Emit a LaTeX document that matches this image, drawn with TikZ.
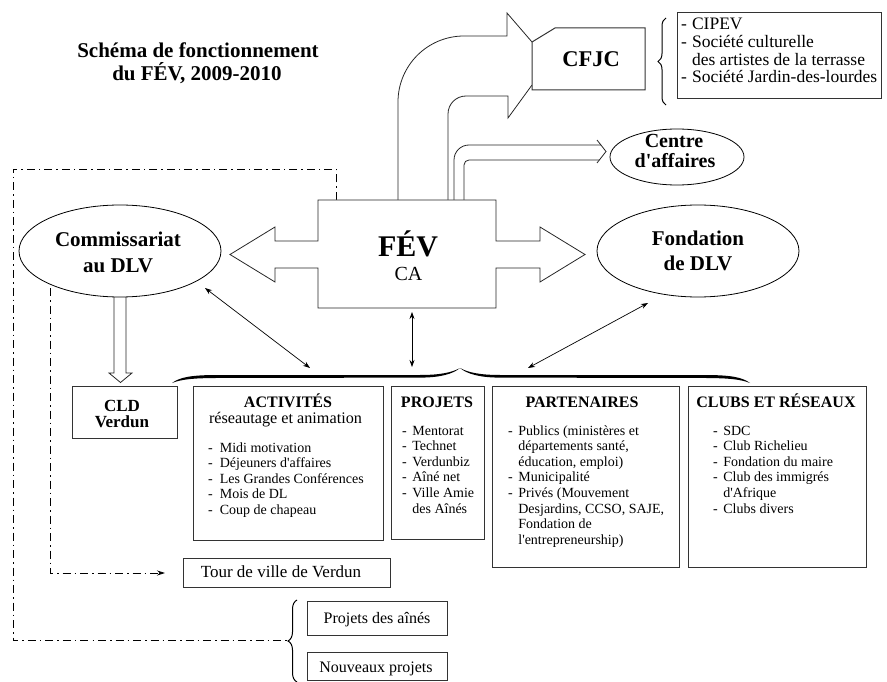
\documentclass[tikz,border=0pt]{standalone}
\usepackage{fontspec}
\setmainfont{Liberation Serif}[Ligatures=TeXOff]
\usetikzlibrary{arrows.meta,decorations.pathreplacing,shapes.geometric}

\begin{document}
\begin{tikzpicture}[x=1pt,y=-1pt,line join=miter]
\tikzset{
  lbl/.style={inner sep=0pt, anchor=base},
  lst/.style={inner sep=0pt, anchor=base west, align=left},
  rectbox/.style={draw=black!80, line width=1pt, fill=white, inner sep=0pt, anchor=north west},
  oval/.style={ellipse, draw=black, line width=0.8pt, fill=white, inner sep=0pt},
  shape line/.style={draw=black!85, line width=0.8pt},
  dashdot/.style={line width=0.8pt, dash pattern=on 8pt off 4pt on 1.5pt off 4pt},
  both arrow/.style={line width=0.7pt, {Stealth[length=7pt,width=5pt]}-{Stealth[length=7pt,width=5pt]}},
  bigfont/.style={font=\bfseries\fontsize{21}{25}\selectfont},
  headfont/.style={font=\bfseries\fontsize{16}{18}\selectfont},
}
\newcommand{\listfont}{\fontsize{14}{15.6}\selectfont}

% page frame
\useasboundingbox (0,0) rectangle (887,682);

% title
\node[lbl, bigfont] (title1) at (198,58) {Schéma de fonctionnement};
\node[lbl, bigfont] (title2) at (197,81) {du FÉV, 2009-2010};

% dash-dotted links
\coordinate (dA) at (336,200);
\coordinate (dB) at (336,169);
\coordinate (dC) at (13,169);
\coordinate (dD) at (13,640);
\coordinate (dE) at (287,640);
\draw[dashdot] (dA) -- (dB) -- (dC) -- (dD) -- (dE);

\coordinate (eA) at (50,288);
\coordinate (eB) at (50,573);
\coordinate (eC) at (165,573);
\draw[dashdot, -{Stealth[length=8pt,width=5pt]}] (eA) -- (eB) -- (eC);

% large bent arrow towards CFJC
\draw[shape line] (398,200) -- (398,102) .. controls (398,65.5) and (427.5,36) .. (464,36)
      -- (507,36) -- (507,13) -- (532,42);
\draw[shape line] (448,200) -- (448,114) .. controls (448,104) and (456,96) .. (466,96)
      -- (508,96) -- (508,118) -- (532,85);

% CFJC box with cut corner
\draw[draw=black!80, line width=1pt, fill=white] (532,42) -- (555,28) -- (645,28) -- (645,90) -- (532,90) -- cycle;
\node[lbl, font=\bfseries\fontsize{22.5}{24}\selectfont] (cfjc) at (591,67) {CFJC};

% double-line arrow towards Centre d'affaires
\draw[shape line] (454,200) -- (454,160) .. controls (454,151.7) and (460.7,145) .. (469,145) -- (601,145);
\draw[shape line] (464,200) -- (464,165) .. controls (464,162.2) and (466.2,160) .. (469,160) -- (599.3,160);
\draw[shape line] (597,140) -- (606,151.5) -- (597,163);

% FÉV box with left and right block arrows
\draw[shape line, fill=white] (318,200) -- (496,200) -- (496,241) -- (540,241) -- (540,227)
   -- (585,254.5) -- (540,282) -- (540,268) -- (496,268) -- (496,308) -- (318,308)
   -- (318,268) -- (275,268) -- (275,282) -- (230,254.5) -- (275,227) -- (275,241)
   -- (318,241) -- cycle;
\node[lbl, font=\bfseries\fontsize{30}{32}\selectfont] (fev) at (408,256) {FÉV};
\node[lbl, font=\fontsize{20}{22}\selectfont] (ca) at (408.5,280) {CA};

% block arrow down to CLD Verdun
\draw[shape line, fill=white] (114,290) -- (114,373) -- (109,373) -- (120.5,382.5) -- (132,373)
   -- (126,373) -- (126,290);

% ellipses
\node[oval, minimum width=202pt, minimum height=92pt] (comm) at (120,251) {};
\node[lbl, bigfont] (commA) at (118,247) {Commissariat};
\node[lbl, bigfont] (commB) at (118,272) {au DLV};

\node[oval, minimum width=202pt, minimum height=92pt] (fond) at (698,251) {};
\node[lbl, bigfont] (fondA) at (698,245) {Fondation};
\node[lbl, bigfont] (fondB) at (698,270) {de DLV};

\node[oval, minimum width=134pt, minimum height=56pt] (centre) at (677,157) {};
\node[lbl, font=\bfseries\fontsize{20}{22}\selectfont] (centreA) at (674,148) {Centre};
\node[lbl, font=\bfseries\fontsize{20}{22}\selectfont] (centreB) at (675,167.5) {d'affaires};

% member list next to CFJC
\draw[line width=1pt, decorate, decoration={brace, amplitude=8pt}] (666,105) -- (666,18);
\node[rectbox, minimum width=204pt, minimum height=86pt] (cfjclist) at (677,12) {};
\node[lst, font=\fontsize{17.5}{17.8}\selectfont] (cfjcitems) at (681,29.5)
  {\begin{tabular}[t]{@{}l@{\hspace{5pt}}l@{}}
   - & CIPEV\\
   - & Société culturelle\\
     & des artistes de la terrasse\\
   - & Société Jardin-des-lourdes
   \end{tabular}};

% lower boxes
\node[rectbox, minimum width=105pt, minimum height=52pt] (cld) at (72,386) {};
\node[lbl, font=\bfseries\fontsize{17}{18}\selectfont] (cldA) at (122,411) {CLD};
\node[lbl, font=\bfseries\fontsize{17}{18}\selectfont] (cldB) at (122,427) {Verdun};

\node[rectbox, minimum width=190pt, minimum height=154pt] (act) at (193,386) {};
\node[lbl, headfont] (actH) at (288,407) {ACTIVITÉS};
\node[lbl, font=\fontsize{16.2}{18}\selectfont] (actS) at (285.5,423) {réseautage et animation};
\node[lst, font=\listfont] (actL) at (208,452)
  {\begin{tabular}[t]{@{}l@{\hspace{7pt}}l@{}}
   - & Midi motivation\\
   - & Déjeuners d'affaires\\
   - & Les Grandes Conférences\\
   - & Mois de DL\\
   - & Coup de chapeau
   \end{tabular}};

\node[rectbox, minimum width=93pt, minimum height=153pt] (proj) at (391,386) {};
\node[lbl, headfont] (projH) at (437,407) {PROJETS};
\node[lst, font=\listfont] (projL) at (402,435)
  {\begin{tabular}[t]{@{}l@{\hspace{5.5pt}}l@{}}
   - & Mentorat\\
   - & Technet\\
   - & Verdunbiz\\
   - & Aîné net\\
   - & Ville Amie\\
     & des Aînés
   \end{tabular}};

\node[rectbox, minimum width=187pt, minimum height=181pt] (part) at (492,386) {};
\node[lbl, headfont] (partH) at (582,407) {PARTENAIRES};
\node[lst, font=\listfont] (partL) at (508,435)
  {\begin{tabular}[t]{@{}l@{\hspace{5.5pt}}l@{}}
   - & Publics (ministères et\\
     & départements santé,\\
     & éducation, emploi)\\
   - & Municipalité\\
   - & Privés (Mouvement\\
     & Desjardins, CCSO, SAJE,\\
     & Fondation de\\
     & l'entrepreneurship)
   \end{tabular}};

\node[rectbox, minimum width=178pt, minimum height=181pt] (clubs) at (688,386) {};
\node[lbl, headfont] (clubsH) at (776,407) {CLUBS ET RÉSEAUX};
\node[lst, font=\listfont] (clubsL) at (713,435)
  {\begin{tabular}[t]{@{}l@{\hspace{5.5pt}}l@{}}
   - & SDC\\
   - & Club Richelieu\\
   - & Fondation du maire\\
   - & Club des immigrés\\
     & d'Afrique\\
   - & Clubs divers
   \end{tabular}};

% long brace over the four groups
\fill (172,383) .. controls (180,377) and (192,375.2) .. (215,375) -- (420,375)
   .. controls (440,375) and (452,372.5) .. (460,368)
   .. controls (453,374) and (440,377.6) .. (420,377.6) -- (215,378)
   .. controls (195,378.2) and (182,379) .. (172,383) -- cycle;
\fill (750,383) .. controls (742,377) and (730,375.2) .. (707,375) -- (500,375)
   .. controls (480,375) and (468,372.5) .. (460,368)
   .. controls (467,374) and (480,377.6) .. (500,377.6) -- (707,378)
   .. controls (727,378.2) and (740,379) .. (750,383) -- cycle;

% two-way links to the brace
\coordinate (bL) at (310,368);
\coordinate (bM) at (412,367);
\coordinate (bR) at (528,368);
\coordinate (cS) at (205,288);
\coordinate (fS) at (412,312);
\coordinate (dS) at (648,303);
\draw[both arrow] (cS) -- (bL);
\draw[both arrow] (fS) -- (bM);
\draw[both arrow] (dS) -- (bR);

% bottom boxes
\node[rectbox, minimum width=207pt, minimum height=29pt] (tour) at (183,558) {};
\node[lbl, font=\fontsize{17}{19}\selectfont] (tourT) at (281,577) {Tour de ville de Verdun};

\draw[line width=1pt, decorate, decoration={brace, amplitude=9pt}] (297,682) -- (297,600);
\node[rectbox, minimum width=140pt, minimum height=34pt] (pa) at (307,601) {};
\node[lbl, font=\fontsize{16}{18}\selectfont] (paT) at (377,623) {Projets des aînés};
\node[rectbox, minimum width=140pt, minimum height=28pt] (np) at (307,652) {};
\node[lbl, font=\fontsize{16}{18}\selectfont] (npT) at (376,672) {Nouveaux projets};

\end{tikzpicture}
\end{document}
